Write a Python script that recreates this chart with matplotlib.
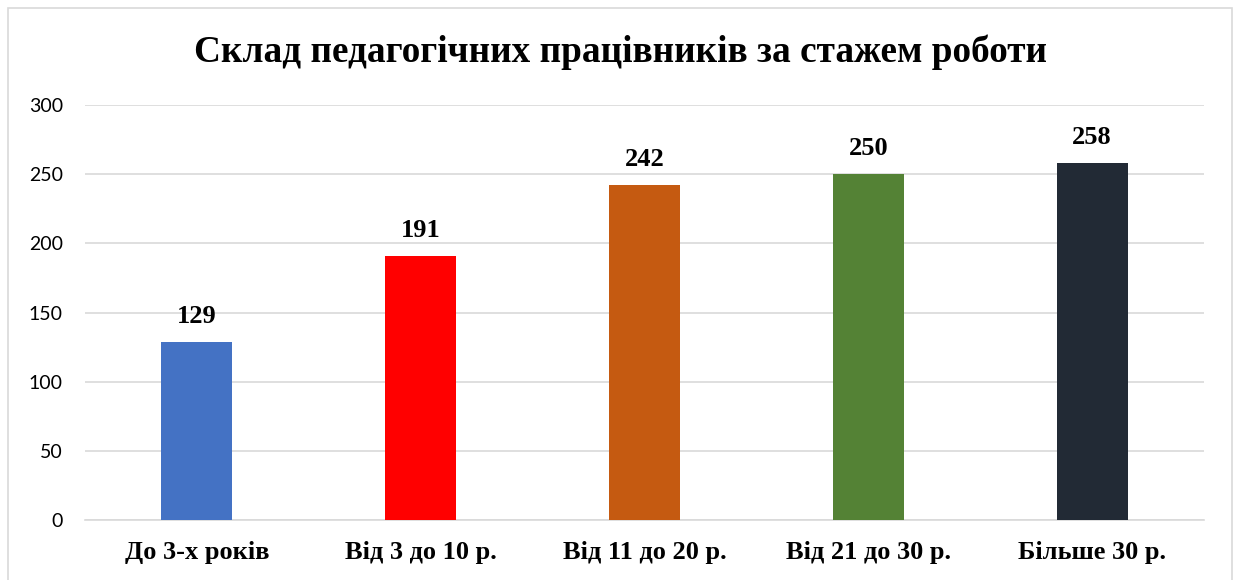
import matplotlib
matplotlib.use("Agg")
import matplotlib.pyplot as plt
from matplotlib.patches import Rectangle

categories = ["До 3-х років", "Від 3 до 10 р.", "Від 11 до 20 р.", "Від 21 до 30 р.", "Більше 30 р."]
values = [129, 191, 242, 250, 258]
colors = ["#4472C4", "#FF0000", "#C55A11", "#548235", "#222A35"]
title = "Склад педагогічних працівників за стажем роботи"

fig = plt.figure(figsize=(12.38, 5.8), dpi=100)
fig.patch.set_facecolor("white")
fig.patches.append(Rectangle((8/1238, -0.05), (1232-8)/1238, 1.05-8/580, transform=fig.transFigure,
                             fill=False, edgecolor="#d9d9d9", linewidth=1.2, zorder=0))

ax = fig.add_axes([85/1238, 1-520/580, (1204-85)/1238, (520-105)/580])
x = range(len(categories))
bars = ax.bar(x, values, width=0.317, color=colors, zorder=3)
ax.set_xlim(-0.5, len(categories)-0.5)
ax.set_ylim(0, 300)
ax.set_yticks(range(0, 301, 50))
ax.yaxis.grid(True, color="#d9d9d9", linewidth=1.2, zorder=0)
ax.set_axisbelow(True)
for s in ["left", "right", "top"]:
    ax.spines[s].set_visible(False)
ax.spines["bottom"].set_color("#d9d9d9")
ax.spines["bottom"].set_linewidth(1.2)
ax.tick_params(axis="both", length=0)
ax.tick_params(axis="y", pad=16, labelsize=14, labelcolor="#000000")
for lab in ax.get_yticklabels():
    lab.set_fontfamily("Lato")
ax.set_xticks(list(x))
ax.set_xticklabels(categories, fontfamily="Liberation Serif", fontweight="bold", fontsize=19)
ax.tick_params(axis="x", pad=15)

for xi, v in zip(x, values):
    ax.annotate(str(v), (xi, v), xytext=(0, 10), textcoords="offset points",
                ha="center", va="bottom", fontfamily="Liberation Serif",
                fontweight="bold", fontsize=19)

fig.text(621/1238, 1-52/580, title, ha="center", va="center",
         fontfamily="Liberation Serif", fontweight="bold", fontsize=26.8)

fig.savefig("out.png", dpi=100)
